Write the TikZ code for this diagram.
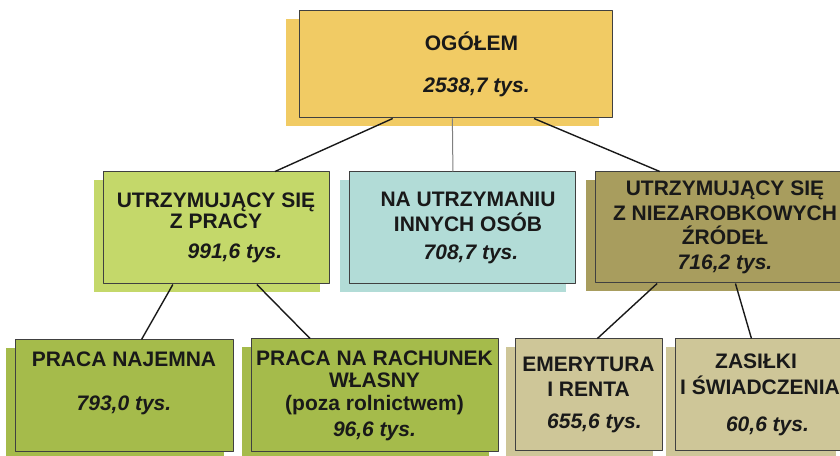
\documentclass[tikz,border=0pt]{standalone}
\usepackage{fontspec}
\setmainfont{Liberation Sans}
\usepackage{tikz}
\usetikzlibrary{calc, shadows, positioning}

\definecolor{boxline}{rgb}{0.25,0.25,0.25}
\definecolor{txtcol}{rgb}{0.1,0.1,0.1}
\tikzset{
  box/.style={rectangle, draw=boxline, line width=1bp, fill=fillcol, inner sep=0pt,
    align=center, text=txtcol, font=\fontsize{21bp}{24bp}\selectfont\bfseries,
    general shadow={fill=fillcol, shadow xshift=#1, shadow yshift=-8bp}},
  box/.default=-9bp,
  conn/.style={line width=1.4bp, draw=txtcol},
}

\begin{document}
\begin{tikzpicture}[line join=bevel]
  \pgfsetlinewidth{1bp}
  \useasboundingbox (0bp,0bp) rectangle (840bp,456bp);
%%
  % Node: top
\begin{scope}
  \definecolor{fillcol}{rgb}{0.945,0.796,0.392};
  \node [box=-13bp, minimum width=313bp, minimum height=107bp] (top) at (455.5bp,391.5bp)
    {\hspace*{32bp}OGÓŁEM\\[18.6bp]\hspace*{42bp}\textit{2538,7 tys.}};
\end{scope}
  % Node: prac
\begin{scope}
  \definecolor{fillcol}{rgb}{0.769,0.847,0.416};
  \node [box, minimum width=226bp, minimum height=112bp] (prac) at (216bp,228bp)
    {UTRZYMUJĄCY SIĘ\\[-2.4bp]Z PRACY\\[6bp]\hspace*{38bp}\textit{991,6 tys.}};
\end{scope}
  % Node: inni
\begin{scope}
  \definecolor{fillcol}{rgb}{0.698,0.863,0.843};
  \node [box, minimum width=226bp, minimum height=112bp] (inni) at (462bp,228bp)
    {\hspace*{12bp}NA UTRZYMANIU\\[1bp]\hspace*{12bp}INNYCH OSÓB\\[3.7bp]\hspace*{18bp}\textit{708,7 tys.}};
\end{scope}
  % Node: niez
\begin{scope}
  \definecolor{fillcol}{rgb}{0.659,0.616,0.369};
  \node [box, minimum width=260bp, minimum height=111bp] (niez) at (725bp,228.5bp)
    {UTRZYMUJĄCY SIĘ\\[1bp]Z NIEZAROBKOWYCH\\ŹRÓDEŁ\\[1bp]\textit{716,2 tys.}};
\end{scope}
  % Node: najem
\begin{scope}
  \definecolor{fillcol}{rgb}{0.647,0.733,0.294};
  \node [box, minimum width=218bp, minimum height=112bp] (najem) at (124bp,60bp)
    {PRACA NAJEMNA\\[20bp]\textit{793,0 tys.}\\[-2bp]\strut};
\end{scope}
  % Node: wlasny
\begin{scope}
  \definecolor{fillcol}{rgb}{0.647,0.733,0.294};
  \node [box, minimum width=247bp, minimum height=113bp] (wlasny) at (374.5bp,60.5bp)
    {PRACA NA RACHUNEK\\[-2bp]WŁASNY\\[-0.6bp](poza rolnictwem)\\[1.6bp]\textit{96,6 tys.}};
\end{scope}
  % Node: emer
\begin{scope}
  \definecolor{fillcol}{rgb}{0.808,0.776,0.596};
  \node [box, minimum width=147bp, minimum height=112bp] (emer) at (588.5bp,61bp)
    {EMERYTURA\\[1bp]I RENTA\\[7.7bp]\hspace*{12bp}\textit{655,6 tys.}};
\end{scope}
  % Node: zasil
\begin{scope}
  \definecolor{fillcol}{rgb}{0.808,0.776,0.596};
  \node [box, minimum width=170bp, minimum height=112bp] (zasil) at (760bp,61bp)
    {ZASIŁKI\hspace*{8bp}\\[2bp]I ŚWIADCZENIA\hspace*{15bp}\\[12.7bp]\hspace*{15bp}\textit{60,6 tys.}};
\end{scope}
%%
  % Edge: top -- prac
  \draw [conn] ($(top.south west)!.30!(top.south east)$) -- ($(prac.north west)!.76!(prac.north east)$);
  % Edge: top -- inni
  \draw [draw=gray, line width=1bp] ($(top.south west)!.49!(top.south east)$) -- ($(inni.north west)!.46!(inni.north east)$);
  % Edge: top -- niez
  \draw [conn] ($(top.south west)!.75!(top.south east)$) -- ($(niez.north west)!.25!(niez.north east)$);
  % Edge: prac -- najem
  \draw [conn] ($(prac.south west)!.31!(prac.south east)$) -- ($(najem.north west)!.58!(najem.north east)$);
  % Edge: prac -- wlasny
  \draw [conn] ($(prac.south west)!.68!(prac.south east)$) -- ($(wlasny.north west)!.24!(wlasny.north east)$);
  % Edge: niez -- emer
  \draw [conn] ($(niez.south west)!.24!(niez.south east)$) -- ($(emer.north west)!.56!(emer.north east)$);
  % Edge: niez -- zasil
  \draw [conn] ($(niez.south west)!.54!(niez.south east)$) -- ($(zasil.north west)!.45!(zasil.north east)$);
%
\end{tikzpicture}
\end{document}
